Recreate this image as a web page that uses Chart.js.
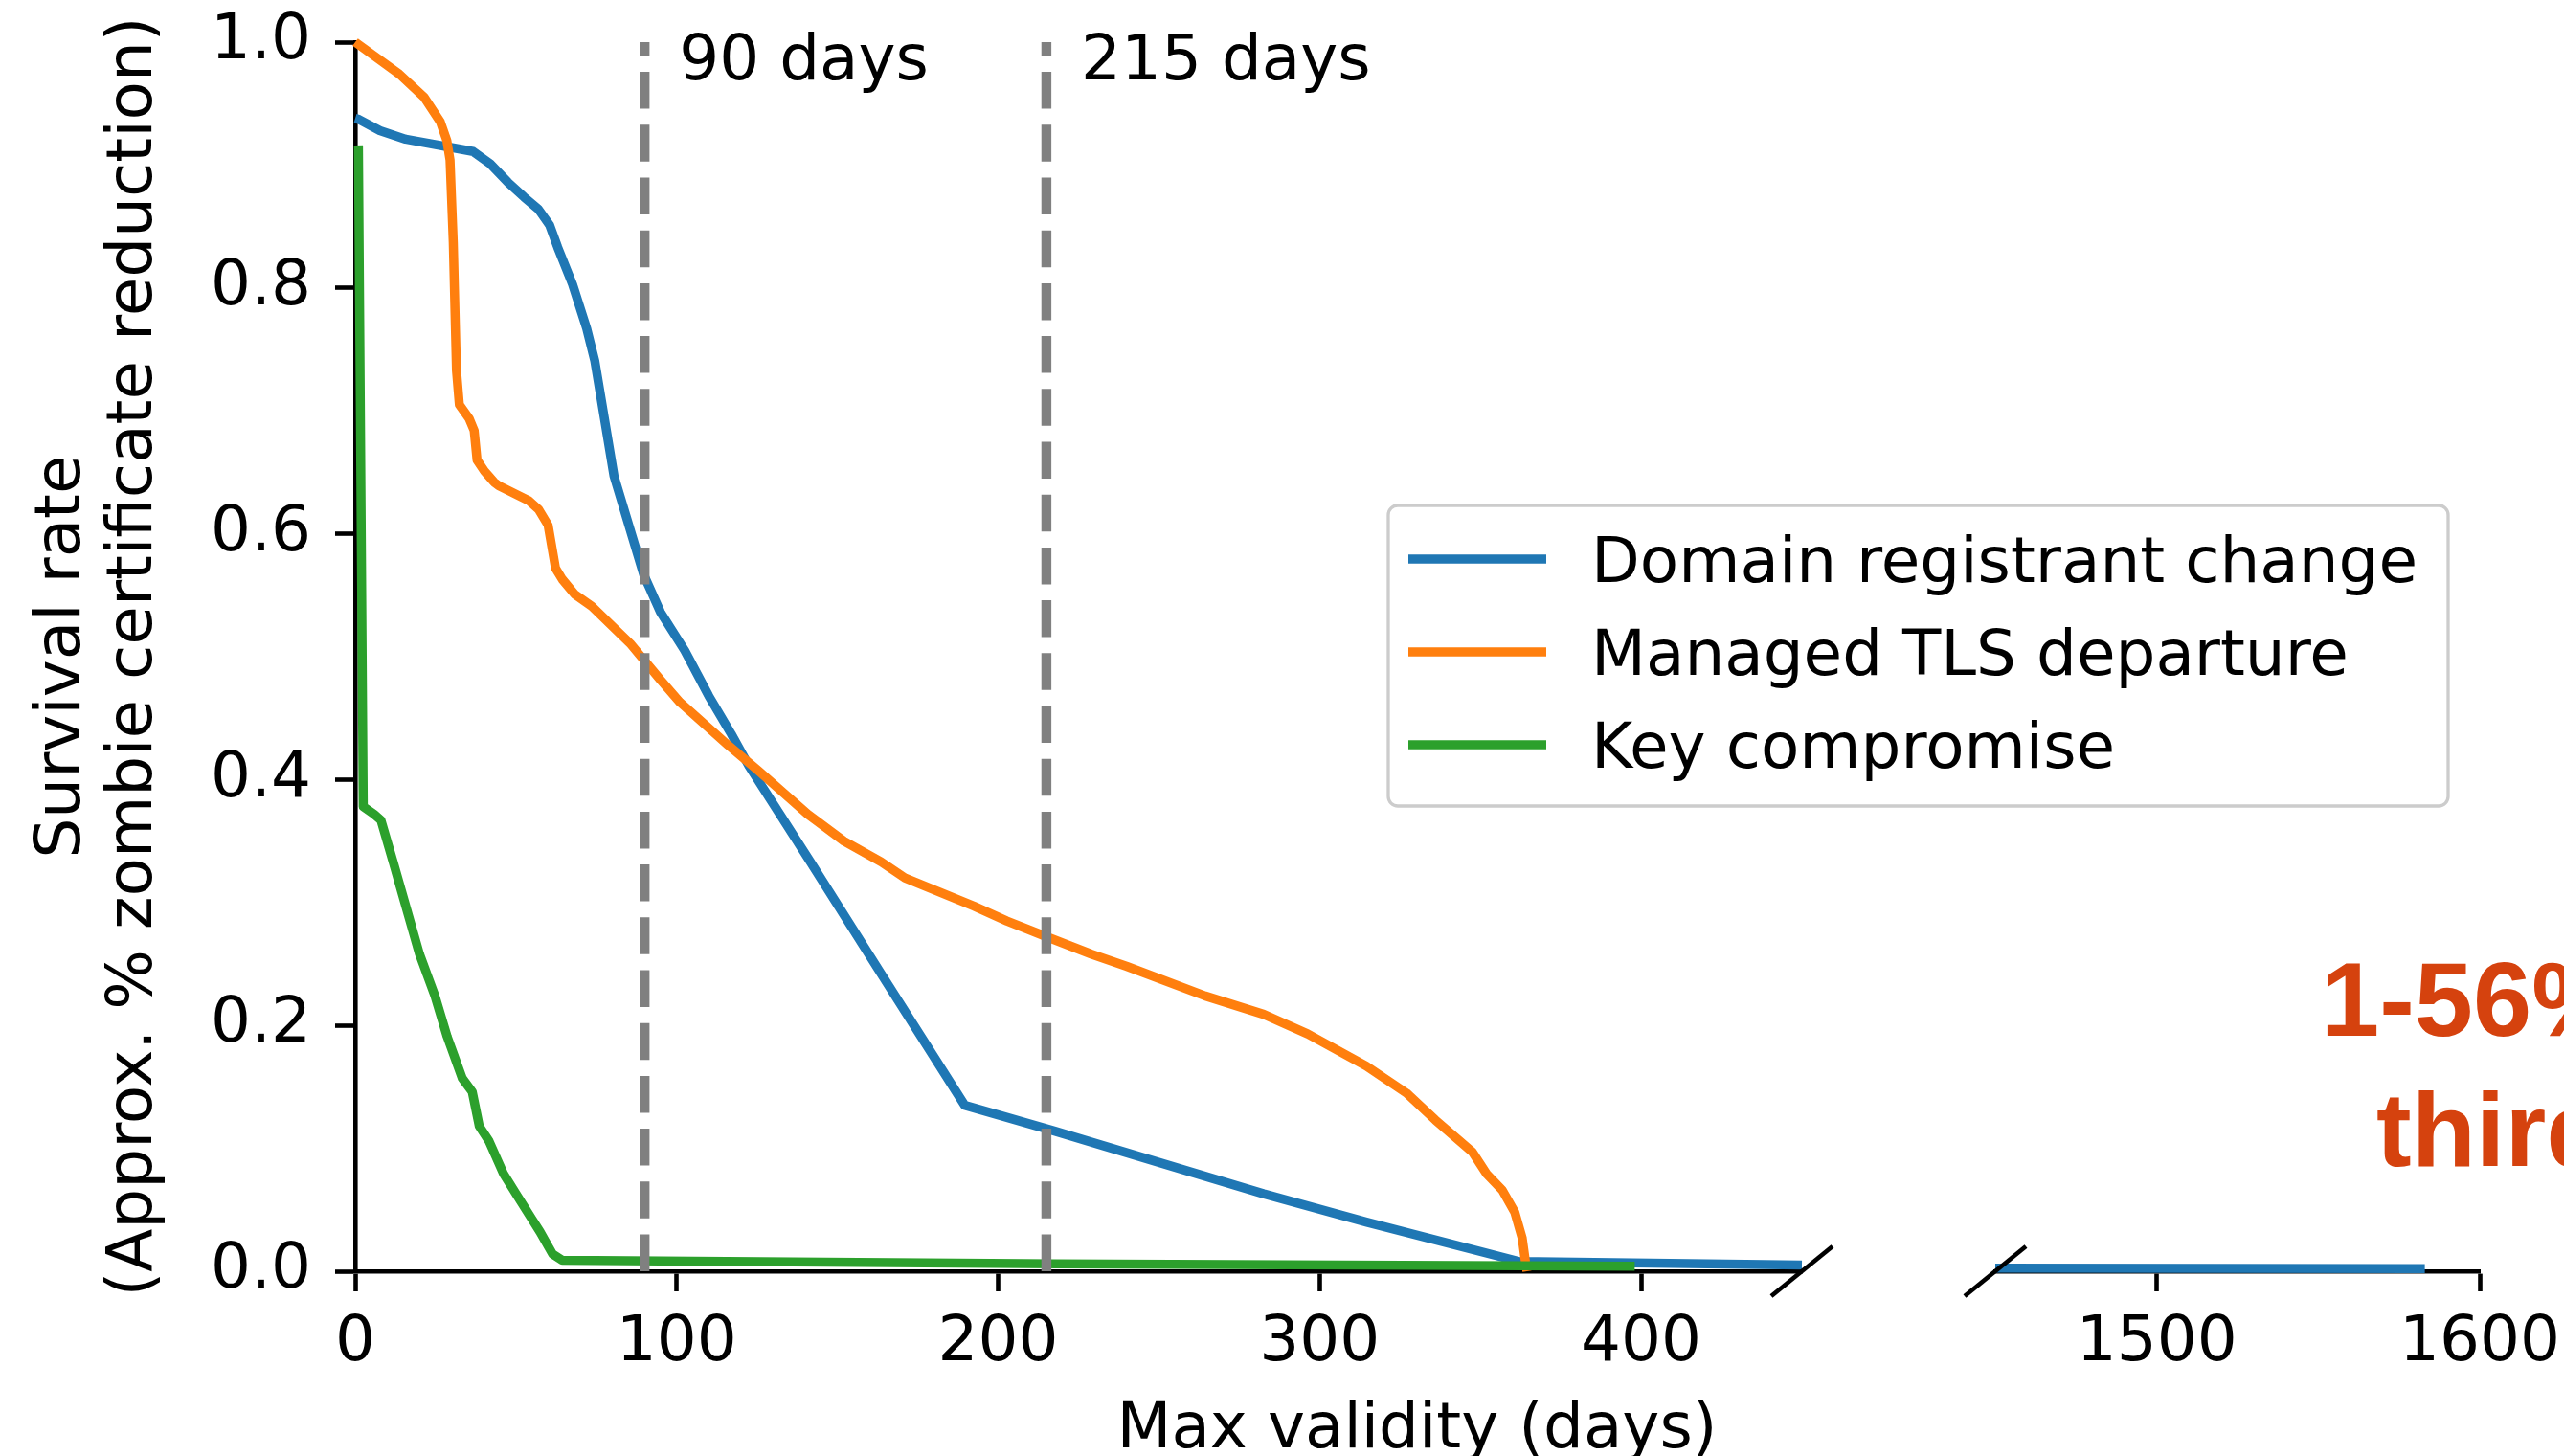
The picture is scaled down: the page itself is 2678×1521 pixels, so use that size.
<!DOCTYPE html>
<html>
<head>
<meta charset="utf-8">
<script src="https://cdn.jsdelivr.net/npm/chart.js@4.4.0/dist/chart.umd.min.js"></script>
<style>
html,body{margin:0;padding:0;background:#ffffff;overflow:hidden}
#wrap{position:relative;width:2678px;height:1521px;background:#ffffff}
#wrap canvas{position:absolute;left:0;top:0}
</style>
</head>
<body>
<div id="wrap">
<canvas id="leftChart" width="2678" height="1521"></canvas>
<canvas id="rightChart" width="2678" height="1521"></canvas>
</div>
<script>
// ---------------- data ----------------
const seriesNames = ['Domain registrant change', 'Managed TLS departure', 'Key compromise'];
const seriesColors = ['#1f77b4', '#ff7f0e', '#2ca02c'];

const domainX = [0, 1.2, 7.7, 15.7, 36.7, 42, 47.5, 52.5, 57, 60.5, 63, 67.6, 72, 74.5, 80.5, 89.7, 95, 102.5, 110, 117, 122.5, 141.6, 163.6, 189.6, 217.6, 282.6, 314.5, 362, 450];
const domainY = [0.938, 0.937, 0.928, 0.921, 0.911, 0.901, 0.886, 0.874, 0.864, 0.851, 0.833, 0.803, 0.767, 0.741, 0.647, 0.567, 0.536, 0.505, 0.468, 0.437, 0.411, 0.333, 0.242, 0.135, 0.114, 0.063, 0.040, 0.008, 0.005];
const domainTailX = [1450, 1583];
const domainTailY = [0.0025, 0.0022];

const tlsX = [0, 13.7, 21.5, 26.5, 28.5, 29.5, 30.5, 31.5, 32.4, 35.4, 37, 37.9, 40.2, 43.2, 44.7, 54, 57, 60, 62.3, 64.4, 68.2, 73.6, 85.8, 95, 101, 116, 125.5, 140.7, 152, 163.6, 171, 192.5, 202.7, 215.2, 229, 240, 264.4, 282.6, 296.3, 314.5, 327, 336, 347.5, 352, 356.8, 360.7, 363, 364, 364.5];
const tlsY = [1.0, 0.974, 0.955, 0.935, 0.920, 0.904, 0.837, 0.733, 0.705, 0.694, 0.684, 0.660, 0.651, 0.642, 0.639, 0.627, 0.620, 0.607, 0.572, 0.563, 0.551, 0.541, 0.510, 0.481, 0.463, 0.428, 0.407, 0.372, 0.350, 0.333, 0.320, 0.297, 0.285, 0.272, 0.258, 0.248, 0.224, 0.209, 0.193, 0.167, 0.145, 0.123, 0.097, 0.079, 0.066, 0.048, 0.027, 0.008, 0.0];

const keyX = [1, 2.5, 5.8, 8, 11.8, 20, 24.8, 28.6, 33.3, 36.4, 38.6, 41.6, 46.2, 50, 54.6, 57.5, 61.4, 64.4, 218, 398];
const keyY = [0.916, 0.378, 0.372, 0.367, 0.333, 0.258, 0.224, 0.191, 0.157, 0.146, 0.118, 0.106, 0.079, 0.063, 0.044, 0.032, 0.014, 0.009, 0.006, 0.004];

const yTicks = [0.0, 0.2, 0.4, 0.6, 0.8, 1.0];
const xTicksLeft = [0, 100, 200, 300, 400];
const xTicksRight = [1500, 1600];
const xRangeLeft = [0, 450];
const xRangeRight = [1450, 1600];
const yRange = [0, 1];

const markerDays = [90, 215];
const markerLabels = ['90 days', '215 days'];

const yTitleLines = ['Survival rate', '(Approx. % zombie certificate reduction)'];
const xTitleText = 'Max validity (days)';
const calloutLines = ['1-56%', 'third'];

// ---------------- helpers ----------------
const FONT = 'DejaVu Sans';
const FS = 66;
Chart.defaults.font.family = FONT;
Chart.defaults.font.size = FS;
Chart.defaults.color = '#000000';

const zip = (xs, ys) => xs.map((x, i) => ({ x: x, y: ys[i] }));

function fixBox(w, h) {
  return function (scale) {
    if (w !== null) scale.width = w;
    if (h !== null) scale.height = h;
    scale.paddingLeft = 0; scale.paddingRight = 0;
    scale.paddingTop = 0; scale.paddingBottom = 0;
  };
}
function setTicks(values) {
  return function (scale) { scale.ticks = values.map(v => ({ value: v })); };
}

function lineDataset(label, data, color, order) {
  return {
    label: label, data: data, borderColor: color, backgroundColor: color,
    borderWidth: 9.5, pointRadius: 0, pointHoverRadius: 0, fill: false, tension: 0,
    borderJoinStyle: 'round', borderCapStyle: 'butt', order: order,
    clip: { left: 12, top: 12, right: 4, bottom: 12 }
  };
}

const axisGrid = { display: true, drawOnChartArea: false, drawTicks: true, tickLength: 21, tickWidth: 4.6, tickColor: '#000000', color: '#000000' };
const axisBorder = { display: true, color: '#000000', width: 4.6 };

function breakMark(ctx, cx, cy) {
  ctx.save();
  ctx.strokeStyle = '#000000';
  ctx.lineWidth = 4.6;
  ctx.beginPath();
  ctx.moveTo(cx - 32, cy + 26);
  ctx.lineTo(cx + 32, cy - 26);
  ctx.stroke();
  ctx.restore();
}

// ---------------- left panel ----------------
const leftDecor = {
  id: 'leftDecor',
  afterDatasetsDraw(chart) {
    const ctx = chart.ctx;
    const x = chart.scales.x, y = chart.scales.y;
    ctx.save();
    ctx.strokeStyle = '#808080';
    ctx.lineWidth = 10.4;
    ctx.setLineDash([38.5, 16.7]);
    markerDays.forEach(d => {
      const px = x.getPixelForValue(d);
      ctx.beginPath();
      ctx.moveTo(px, y.getPixelForValue(yRange[0]));
      ctx.lineTo(px, y.getPixelForValue(yRange[1]));
      ctx.stroke();
    });
    ctx.setLineDash([]);
    ctx.fillStyle = '#000000';
    ctx.font = FS + 'px "' + FONT + '"';
    ctx.textAlign = 'left';
    ctx.textBaseline = 'alphabetic';
    markerDays.forEach((d, i) => {
      ctx.fillText(markerLabels[i], x.getPixelForValue(d) + 36, y.getPixelForValue(yRange[1]) + 39);
    });
    ctx.restore();
  },
  afterDraw(chart) {
    const ctx = chart.ctx;
    const a = chart.chartArea;
    breakMark(ctx, a.right, a.bottom);

    // legend box
    ctx.save();
    const bx = 1450, by = 528, bw = 1107, bh = 314;
    ctx.beginPath();
    ctx.roundRect(bx, by, bw, bh, 10);
    ctx.fillStyle = 'rgba(255,255,255,0.8)';
    ctx.fill();
    ctx.strokeStyle = '#cccccc';
    ctx.lineWidth = 3.3;
    ctx.stroke();
    ctx.font = FS + 'px "' + FONT + '"';
    ctx.textAlign = 'left';
    ctx.textBaseline = 'alphabetic';
    seriesNames.forEach((name, i) => {
      const ry = 584 + i * 97;
      ctx.strokeStyle = seriesColors[i];
      ctx.lineWidth = 9.5;
      ctx.beginPath();
      ctx.moveTo(1471, ry);
      ctx.lineTo(1615, ry);
      ctx.stroke();
      ctx.fillStyle = '#000000';
      ctx.fillText(name, 1662, ry + 0.365 * FS);
    });

    // shared x-axis title
    ctx.textAlign = 'center';
    ctx.fillStyle = '#000000';
    ctx.fillText(xTitleText, 1480, 1512);
    ctx.restore();
  }
};

new Chart(document.getElementById('leftChart'), {
  type: 'line',
  data: {
    datasets: [
      lineDataset(seriesNames[0], zip(domainX, domainY), seriesColors[0], 3),
      lineDataset(seriesNames[1], zip(tlsX, tlsY), seriesColors[1], 2),
      lineDataset(seriesNames[2], zip(keyX, keyY), seriesColors[2], 1)
    ]
  },
  options: {
    responsive: false, animation: false, devicePixelRatio: 1, events: [],
    layout: { padding: { left: 0, top: 44, right: 796, bottom: 0 } },
    plugins: { legend: { display: false }, tooltip: { enabled: false } },
    scales: {
      x: {
        type: 'linear', position: 'bottom', min: xRangeLeft[0], max: xRangeLeft[1],
        grid: axisGrid, border: axisBorder,
        afterBuildTicks: setTicks(xTicksLeft),
        afterFit: fixBox(null, 193),
        ticks: { padding: 15, maxRotation: 0, autoSkip: false, color: '#000000', font: { size: FS }, callback: v => String(v) }
      },
      y: {
        type: 'linear', position: 'left', min: yRange[0], max: yRange[1],
        grid: axisGrid, border: axisBorder,
        afterBuildTicks: setTicks(yTicks),
        afterFit: fixBox(371, null),
        ticks: { padding: 25, autoSkip: false, color: '#000000', font: { size: FS }, callback: v => Number(v).toFixed(1) },
        title: { display: true, text: yTitleLines, color: '#000000', font: { size: FS, lineHeight: 1.14 }, padding: { top: 28, bottom: 0 } }
      }
    }
  },
  plugins: [leftDecor]
});

// ---------------- right panel ----------------
const rightDecor = {
  id: 'rightDecor',
  afterDraw(chart) {
    const ctx = chart.ctx;
    const a = chart.chartArea;
    breakMark(ctx, a.left, a.bottom);
    ctx.save();
    ctx.fillStyle = '#D5420E';
    ctx.font = 'bold 110px "Liberation Sans"';
    ctx.textAlign = 'left';
    ctx.textBaseline = 'alphabetic';
    ctx.fillText(calloutLines[0], 2424, 1082);
    ctx.fillText(calloutLines[1], 2482, 1218);
    ctx.restore();
  }
};

new Chart(document.getElementById('rightChart'), {
  type: 'line',
  data: {
    datasets: [
      lineDataset(seriesNames[0], zip(domainTailX, domainTailY), seriesColors[0], 3)
    ]
  },
  options: {
    responsive: false, animation: false, devicePixelRatio: 1, events: [],
    layout: { padding: { left: 2084, top: 44, right: 88, bottom: 0 } },
    plugins: { legend: { display: false }, tooltip: { enabled: false } },
    scales: {
      x: {
        type: 'linear', position: 'bottom', min: xRangeRight[0], max: xRangeRight[1],
        grid: axisGrid, border: axisBorder,
        afterBuildTicks: setTicks(xTicksRight),
        afterFit: fixBox(null, 193),
        ticks: { padding: 15, maxRotation: 0, autoSkip: false, color: '#000000', font: { size: FS }, callback: v => String(v) }
      },
      y: { type: 'linear', display: false, min: yRange[0], max: yRange[1] }
    }
  },
  plugins: [rightDecor]
});
</script>
</body>
</html>
